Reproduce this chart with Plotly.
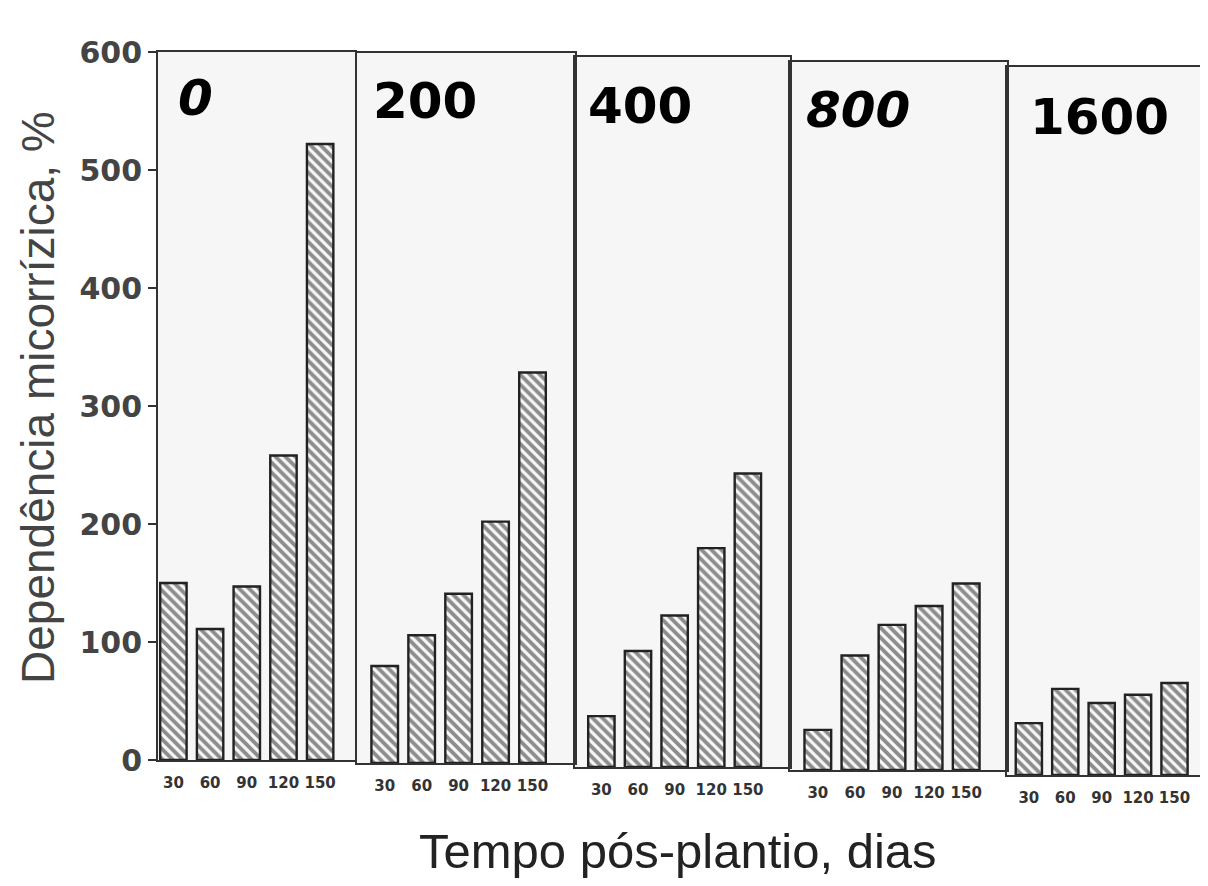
import plotly.graph_objects as go

days = ["30", "60", "90", "120", "150"]
panel_labels = ["0", "200", "400", "800", "1600"]
p0 = [150, 111, 147, 258, 522]
p200 = [82, 108, 143, 204, 330]
p400 = [43, 98, 128, 185, 248]
p800 = [34, 97, 123, 139, 158]
p1600 = [44, 73, 61, 68, 78]
series = [p0, p200, p400, p800, p1600]
y_ticks = [0, 100, 200, 300, 400, 500, 600]

OFF = 8  # page body margin of the browser
W, H = 1208 - OFF, 886 - OFF


def fx(p):
    return (p - OFF) / W


def fy(p):
    return 1 - (p - OFF) / H


px_domains = [(158, 355), (357, 575), (575, 790), (790, 1007), (1007, 1200)]
x_ranges = [(-0.42, 4.95), (-0.75, 5.15), (-0.72, 5.15), (-0.75, 5.1), (-0.6, 4.7)]
# top / bottom pixel of each panel frame (the scanned page is slightly tilted)
px_vert = [(52, 760), (53, 763), (57, 767), (62, 770), (67, 775)]

fig = go.Figure()
xpos = list(range(len(days)))
for i, vals in enumerate(series):
    ax = "" if i == 0 else str(i + 1)
    fig.add_trace(go.Bar(
        x=xpos, y=vals, xaxis="x" + ax, yaxis="y" + ax, width=0.72,
        marker=dict(color="white", line=dict(color="#222", width=2.4),
                    pattern=dict(shape="\\", fgcolor="#222", bgcolor="#f8f8f8", size=7, solidity=0.55)),
        showlegend=False, hoverinfo="skip"))
    top, bot = px_vert[i]
    xa = dict(domain=[fx(px_domains[i][0]), fx(px_domains[i][1])], range=list(x_ranges[i]),
              tickmode="array", tickvals=xpos, ticktext=["<b>%s</b>" % d for d in days],
              tickfont=dict(family="DejaVu Sans", size=15, color="#333"), tickangle=0,
              showline=True, mirror=True, linecolor="#333", linewidth=1.8,
              ticks="", ticklabelstandoff=8, showgrid=False, zeroline=False,
              anchor="y" + ax, fixedrange=True, automargin=False)
    ya = dict(domain=[fy(bot), fy(top)], range=[0, 600], showline=True, mirror=True,
              linecolor="#333", linewidth=1.8, showgrid=False, zeroline=False,
              anchor="x" + ax, automargin=False)
    if i == 0:
        ya.update(tickmode="array", tickvals=y_ticks, ticktext=["<b>%d</b>" % t for t in y_ticks],
                  ticks="outside", ticklen=8, tickcolor="#333", tickwidth=1.5,
                  tickfont=dict(family="DejaVu Sans", size=30, color="#444"))
    else:
        ya.update(matches="y", showticklabels=False, ticks="")
    fig.layout["xaxis" + ax] = xa
    fig.layout["yaxis" + ax] = ya

label_pos = [(176, 98, True), (371, 101, False), (586, 106, False), (804, 110, True), (1028, 117, False)]
for (lx, ly, it), txt in zip(label_pos, panel_labels):
    t = "<b><i>%s</i></b>" % txt if it else "<b>%s</b>" % txt
    fig.add_annotation(x=fx(lx), y=fy(ly), xref="paper", yref="paper", text=t, showarrow=False,
                       xanchor="left", yanchor="middle",
                       font=dict(family="DejaVu Sans", size=50, color="black"))

fig.add_annotation(x=fx(38), y=fy(398), xref="paper", yref="paper",
                   text="Dependência micorrízica, %", textangle=-90, showarrow=False,
                   xanchor="center", yanchor="middle",
                   font=dict(family="Liberation Sans", size=46, color="#444"))
fig.add_annotation(x=fx(678), y=fy(851), xref="paper", yref="paper",
                   text="Tempo pós-plantio, dias", showarrow=False,
                   xanchor="center", yanchor="middle",
                   font=dict(family="Liberation Sans", size=49, color="#222"))

fig.update_layout(width=W, height=H, margin=dict(l=0, r=0, t=0, b=0, autoexpand=False),
                  paper_bgcolor="white", plot_bgcolor="#f6f6f6", bargap=0.3)
fig.write_html("out.html")
